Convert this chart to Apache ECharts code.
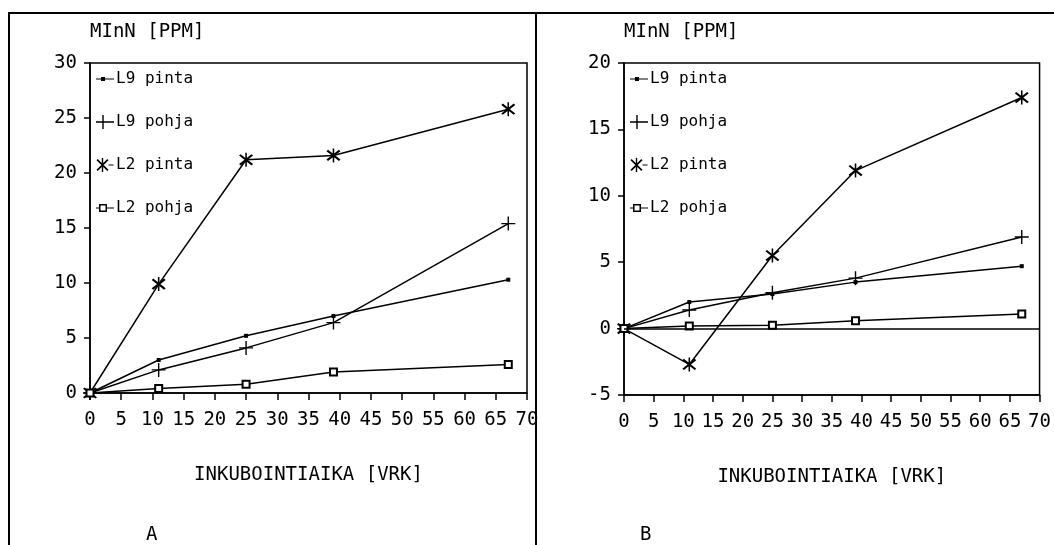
<!DOCTYPE html>
<html>
<head>
<meta charset="utf-8">
<style>
  html, body { margin: 0; padding: 0; background: #fff; }
  #main { width: 1054px; height: 545px; }
</style>
<script src="https://cdn.jsdelivr.net/npm/echarts@6/dist/echarts.min.js"></script>
</head>
<body>
<div id="main"></div>
<script>
// incubation days (x) shared by both panels
const days = [0, 11, 25, 39, 67];
const seriesNames = ['L9 pinta', 'L9 pohja', 'L2 pinta', 'L2 pohja'];

// panel A values, MinN ppm
const aL9pinta = [0, 3.0, 5.2, 7.0, 10.3];
const aL9pohja = [0, 2.1, 4.1, 6.4, 15.4];
const aL2pinta = [0, 9.9, 21.2, 21.6, 25.8];
const aL2pohja = [0, 0.4, 0.8, 1.9, 2.6];

// panel B values, MinN ppm
const bL9pinta = [0, 2.0, 2.6, 3.5, 4.7];
const bL9pohja = [0, 1.4, 2.7, 3.8, 6.9];
const bL2pinta = [0, -2.7, 5.5, 11.9, 17.4];
const bL2pohja = [0, 0.2, 0.25, 0.6, 1.1];

const font = "'DejaVu Sans Mono', monospace";

// marker shapes on the lines
const symDot = 'rect';
const symPlus = 'path://M9,0h2v20h-2zM0,9h20v2h-20z';
const symStar = 'path://M9,0h2v20h-2zM1,4L3,2L19,16L17,18zM17,2L19,4L3,18L1,16z';
const symSquare = 'emptyRect';

const symbols = [symDot, symPlus, symStar, symSquare];
const sizes = [4, 14, 14, 7];

// legend icons: marker at the left, short line running to the text
const legendIcons = [
    'path://M0,6.4h18v1.2h-18zM5,5h4v4h-4z',
    'path://M6.3,0h1.4v14h-1.4zM0,6.3h18v1.4h-18z',
    'path://M6.3,0h1.4v14h-1.4zM1,2.2L2.2,1L13,11.8L11.8,13zM11.8,1L13,2.2L2.2,13L1,11.8zM13,6.4h5v1.2h-5z',
    'path://M3,3h8v8h-8zM4.5,4.5v5h5v-5zM0,6.4h3v1.2h-3zM11,6.4h7v1.2h-7z'
];

function pairs(arr) {
    return days.map((d, i) => [d, arr[i]]);
}

function makeSeries(idx, values) {
    const list = [];
    values.forEach((v, k) => {
        list.push({
            name: seriesNames[k],
            type: 'line',
            xAxisIndex: idx,
            yAxisIndex: idx,
            data: pairs(v),
            symbol: symbols[k],
            symbolSize: sizes[k],
            showAllSymbol: true,
            color: '#000',
            lineStyle: { color: '#000', width: 1.5 },
            itemStyle: { color: '#000', borderColor: '#000', borderWidth: k === 3 ? 1.5 : 0 },
            animation: false
        });
    });
    return list;
}

function xAxisOpt(idx) {
    return {
        gridIndex: idx,
        type: 'value',
        min: 0, max: 70, interval: 5,
        name: 'INKUBOINTIAIKA [VRK]',
        nameLocation: 'middle',
        nameGap: 73,
        nameTextStyle: { fontFamily: font, fontSize: 19, color: '#000' },
        axisLine: { onZero: false, lineStyle: { color: '#000', width: 1.5 } },
        axisTick: { show: true, inside: false, length: 7, lineStyle: { color: '#000', width: 1.5 } },
        axisLabel: { fontFamily: font, fontSize: 19, color: '#000', margin: 18 },
        splitLine: { show: false }
    };
}

function yAxisOpt(idx, min, max) {
    return {
        gridIndex: idx,
        type: 'value',
        min: min, max: max, interval: 5,
        name: 'MInN [PPM]',
        nameLocation: 'end',
        nameGap: 21,
        nameTextStyle: { fontFamily: font, fontSize: 19, color: '#000', align: 'left' },
        axisLine: { onZero: false, lineStyle: { color: '#000', width: 1.5 } },
        axisTick: { show: true, inside: false, length: 6, lineStyle: { color: '#000', width: 1.5 } },
        axisLabel: { fontFamily: font, fontSize: 19, color: '#000', margin: 13 },
        splitLine: { show: false }
    };
}

function legendOpt(left) {
    return {
        orient: 'vertical',
        left: left,
        top: 66,
        itemWidth: 18,
        itemHeight: 14,
        itemGap: 27,
        symbolKeepAspect: true,
        itemStyle: { borderWidth: 0 },
        data: seriesNames.map((n, k) => ({ name: n, icon: legendIcons[k] })),
        textStyle: { fontFamily: font, fontSize: 16, color: '#000', padding: [0, 0, 0, -3] },
        selectedMode: false
    };
}

const chart = echarts.init(document.getElementById('main'));

const seriesA = makeSeries(0, [aL9pinta, aL9pohja, aL2pinta, aL2pohja]);
const seriesB = makeSeries(1, [bL9pinta, bL9pohja, bL2pinta, bL2pohja]);

// zero line in panel B
seriesB[3].markLine = {
    silent: true,
    symbol: 'none',
    label: { show: false },
    lineStyle: { color: '#000', width: 1.5, type: 'solid' },
    data: [{ yAxis: 0 }]
};

chart.setOption({
    backgroundColor: '#fff',
    animation: false,
    title: [
        { text: 'A', left: 141, top: 521, textStyle: { fontFamily: font, fontSize: 19, fontWeight: 'normal', color: '#000' } },
        { text: 'B', left: 635, top: 521, textStyle: { fontFamily: font, fontSize: 19, fontWeight: 'normal', color: '#000' } }
    ],
    legend: [legendOpt(91), legendOpt(625)],
    grid: [
        { left: 90, top: 63, width: 437, height: 330, show: true, borderColor: '#000', borderWidth: 1.5, backgroundColor: 'transparent' },
        { left: 624, top: 63, width: 422, height: 332, show: true, borderColor: '#000', borderWidth: 1.5, backgroundColor: 'transparent' }
    ],
    xAxis: [xAxisOpt(0), xAxisOpt(1)],
    yAxis: [yAxisOpt(0, 0, 30), yAxisOpt(1, -5, 20)],
    // outer frame of the figure
    graphic: [
        { type: 'line', shape: { x1: 8, y1: 13, x2: 1054, y2: 13 }, style: { stroke: '#000', lineWidth: 2 } },
        { type: 'line', shape: { x1: 9, y1: 13, x2: 9, y2: 545 }, style: { stroke: '#000', lineWidth: 2 } },
        { type: 'line', shape: { x1: 536, y1: 13, x2: 536, y2: 545 }, style: { stroke: '#000', lineWidth: 2 } }
    ],
    series: seriesA.concat(seriesB)
});
</script>
</body>
</html>
